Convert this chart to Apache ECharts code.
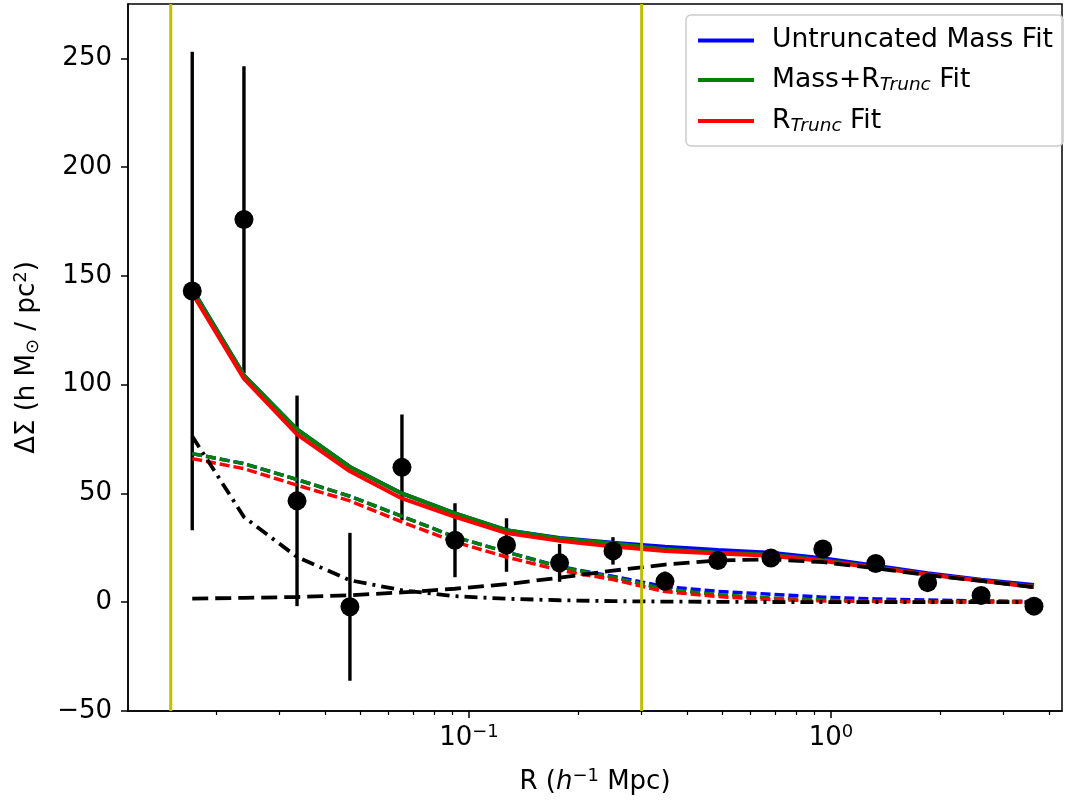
<!DOCTYPE html>
<html>
<head>
<meta charset="utf-8">
<script src="https://cdn.jsdelivr.net/npm/echarts@6/dist/echarts.min.js"></script>
<style>
html, body { margin: 0; padding: 0; background: #fff; }
#chart { width: 1071px; height: 803px; }
</style>
</head>
<body>
<div id="chart"></div>
<script>
// radial bins (h^-1 Mpc)
const radius = [0.0172, 0.0239, 0.0335, 0.0469, 0.0653, 0.0915, 0.127, 0.178, 0.250, 0.348, 0.487, 0.683, 0.950, 1.33, 1.85, 2.60, 3.64]
// measured Delta Sigma and errors
const deltaSigma = [143.1, 175.9, 46.6, -2.1, 62.0, 28.5, 26.3, 18.1, 23.6, 9.6, 19.2, 20.3, 24.5, 17.8, 9.0, 3.1, -1.8]
const deltaSigmaErr = [110, 70.5, 48.4, 34.0, 24.3, 17.0, 12.3, 8.7, 6.3, 4.5, 3.0, 2.5, 2.0, 1.8, 1.6, 1.4, 1.3]
// total model curves
const untruncTotal = [144.0, 104.3, 79.5, 62.2, 50.0, 40.8, 33.1, 29.5, 27.3, 25.5, 24.0, 22.8, 20.2, 16.8, 13.3, 10.3, 7.9]
const massTruncTotal = [143.8, 104.3, 79.5, 62.2, 50.0, 40.8, 33.1, 29.3, 27.0, 24.4, 22.7, 21.8, 19.3, 16.1, 12.8, 10.0, 7.1]
const truncTotal = [142.0, 102.8, 77.2, 60.2, 47.7, 39.2, 31.8, 28.2, 25.6, 23.6, 22.4, 21.4, 19.0, 15.9, 12.7, 9.9, 7.0]
// one-halo terms
const untruncOneHalo = [68.3, 63.7, 56.4, 48.7, 39.5, 30.0, 23.1, 16.4, 11.9, 7.2, 5.0, 3.7, 2.3, 1.5, 1.0, 0.6, 0.4]
const massTruncOneHalo = [68.3, 63.7, 56.4, 48.7, 39.5, 30.0, 23.1, 16.2, 11.5, 6.0, 3.5, 1.9, 1.0, 0.5, 0.3, 0.15, 0.1]
const truncOneHalo = [66.0, 61.4, 53.8, 46.6, 36.9, 27.7, 20.8, 14.7, 10.4, 4.9, 2.6, 1.2, 0.6, 0.3, 0.15, 0.08, 0.04]
// two-halo and central terms (black)
const twoHalo = [1.7, 2.0, 2.4, 3.2, 4.5, 6.2, 8.3, 11.3, 14.5, 17.3, 19.2, 19.7, 18.4, 15.6, 12.5, 9.8, 6.9]
const central = [76.3, 39.2, 20.8, 10.1, 5.5, 2.8, 1.6, 0.9, 0.5, 0.3, 0.2, 0.1, 0.07, 0.05, 0.03, 0.02, 0.01]
// vertical fit-range markers
const fitRange = [0.015, 0.3]
// axis ticks
const xMajorTicks = [0.1, 1]
const xMinorTicks = [0.02, 0.03, 0.04, 0.05, 0.06, 0.07, 0.08, 0.09, 0.2, 0.3, 0.4, 0.5, 0.6, 0.7, 0.8, 0.9, 2, 3, 4]
const yTicks = [-50, 0, 50, 100, 150, 200, 250]
const xMin = 0.01143, xMax = 4.35

const font = 'DejaVu Sans'
const pair = (arr) => radius.map((r, i) => [r, arr[i]])
const lg = Math.log10

const supRich = {
  n: { fontSize: 26, fontFamily: font, color: '#000', lineHeight: 30 },
  sub: { fontSize: 18, fontFamily: font, color: '#000', lineHeight: 14, verticalAlign: 'bottom' },
  subi: { fontSize: 18.5, fontFamily: font, fontStyle: 'italic', color: '#000', lineHeight: 14, verticalAlign: 'bottom' },
  sup: { fontSize: 18, fontFamily: font, color: '#000', lineHeight: 21, verticalAlign: 'top' },
  i: { fontSize: 26, fontFamily: font, fontStyle: 'italic', color: '#000', lineHeight: 30 }
}
const legendRich = Object.assign({}, supRich, {
  n: { fontSize: 26.6, fontFamily: font, color: '#000', lineHeight: 30 }
})

const legendText = {
  'Untruncated Mass Fit': '{n|Untruncated Mass Fit}',
  'Mass+RTrunc Fit': '{n|Mass+R}{subi|Trunc}{n| Fit}',
  'RTrunc Fit': '{n|R}{subi|Trunc}{n| Fit}'
}

const lineSeries = (name, data, color, type, width) => ({
  name: name,
  type: 'line',
  data: pair(data),
  xAxisIndex: 0,
  symbol: 'none',
  silent: true,
  lineStyle: { color: color, width: width || 4, type: type || 'solid' },
  itemStyle: { color: color }
})

const chart = echarts.init(document.getElementById('chart'))
chart.setOption({
  animation: false,
  backgroundColor: '#fff',
  grid: {
    left: 128, right: 9, top: 4, bottom: 92,
    show: true, borderColor: '#000', borderWidth: 1.5, backgroundColor: 'transparent'
  },
  legend: {
    data: ['Untruncated Mass Fit', 'Mass+RTrunc Fit', 'RTrunc Fit'],
    orient: 'vertical',
    right: 8, top: 15,
    itemWidth: 56, itemHeight: 3, itemGap: 12.5,
    padding: [12, 10, 10, 10],
    selectedMode: false,
    backgroundColor: 'rgba(255,255,255,0.8)',
    borderColor: '#cccccc', borderWidth: 1.5, borderRadius: 5,
    itemStyle: { opacity: 0 },
    lineStyle: { width: 4 },
    formatter: name => legendText[name],
    textStyle: { padding: [0, 0, 0, 13], rich: legendRich }
  },
  xAxis: [
    { type: 'log', logBase: 10, min: xMin, max: xMax, show: false },
    {
      type: 'value', position: 'bottom', min: lg(xMin), max: lg(xMax),
      axisLine: { show: true, onZero: false, lineStyle: { color: '#000', width: 1.5 } },
      axisTick: { show: true, length: 7, customValues: xMajorTicks.map(lg), lineStyle: { color: '#000', width: 1.5 } },
      axisLabel: {
        customValues: xMajorTicks.map(lg), margin: 12,
        formatter: v => '{n|10}{sup|' + (v < 0 ? '\u2212' : '') + Math.abs(Math.round(v)) + '}',
        rich: supRich
      },
      splitLine: { show: false },
      name: '{n|R (}{i|h}{sup|\u22121}{n| Mpc)}',
      nameLocation: 'middle', nameGap: 56,
      nameTextStyle: { rich: supRich }
    },
    {
      type: 'value', position: 'bottom', min: lg(xMin), max: lg(xMax),
      axisLine: { show: false },
      axisTick: { show: true, length: 4, customValues: xMinorTicks.map(lg), lineStyle: { color: '#000', width: 1.2 } },
      axisLabel: { show: false },
      splitLine: { show: false }
    }
  ],
  yAxis: {
    type: 'value', min: -50, max: 275, interval: 50,
    axisLine: { show: true, onZero: false, lineStyle: { color: '#000', width: 1.5 } },
    axisTick: { show: true, length: 7, customValues: yTicks, lineStyle: { color: '#000', width: 1.5 } },
    axisLabel: {
      customValues: yTicks, margin: 16,
      formatter: v => '{n|' + String(v).replace('-', '\u2212') + '}',
      rich: supRich
    },
    splitLine: { show: false },
    name: '{n|\u0394\u03a3 (h M}{sub|\u2299}{n| / pc}{sup|2}{n|)}',
    nameLocation: 'middle', nameGap: 86,
    nameTextStyle: { rich: supRich }
  },
  series: [
    lineSeries('Untruncated Mass Fit', untruncTotal, '#0000ff'),
    lineSeries('Mass+RTrunc Fit', massTruncTotal, '#008000'),
    lineSeries('RTrunc Fit', truncTotal, '#ff0000'),
    lineSeries('untrunc 1h', untruncOneHalo, '#0000ff', [10, 4], 3.5),
    lineSeries('masstrunc 1h', massTruncOneHalo, '#008000', [10, 4], 3.5),
    lineSeries('trunc 1h', truncOneHalo, '#ff0000', [10, 4], 3.5),
    lineSeries('2h', twoHalo, '#000', [16, 7], 3.8),
    lineSeries('central', central, '#000', [13, 6, 3, 6], 3.8),
    {
      name: 'errors',
      type: 'custom',
      xAxisIndex: 0,
      silent: true,
      data: radius.map((r, i) => [r, deltaSigma[i], deltaSigmaErr[i]]),
      encode: { x: 0, y: 1 },
      renderItem: (params, api) => {
        const x = api.value(0), y = api.value(1), e = api.value(2)
        const lo = api.coord([x, y - e])
        const hi = api.coord([x, y + e])
        return {
          type: 'line',
          shape: { x1: lo[0], y1: lo[1], x2: hi[0], y2: hi[1] },
          style: { stroke: '#000', lineWidth: 3.4 }
        }
      }
    },
    {
      name: 'data',
      type: 'scatter',
      xAxisIndex: 0,
      data: pair(deltaSigma),
      symbol: 'circle',
      symbolSize: 19,
      silent: true,
      itemStyle: { color: '#000', opacity: 1 },
      z: 5
    },
    {
      name: 'range',
      type: 'custom',
      xAxisIndex: 0,
      silent: true,
      z: 6,
      data: fitRange.map(v => [v, 0]),
      encode: { x: 0, y: 1 },
      renderItem: (params, api) => {
        const p = api.coord([api.value(0), 0])
        const cs = params.coordSys
        return {
          type: 'line',
          shape: { x1: p[0], y1: cs.y, x2: p[0], y2: cs.y + cs.height },
          style: { stroke: '#bfbf00', lineWidth: 3 }
        }
      }
    }
  ]
})
</script>
</body>
</html>
